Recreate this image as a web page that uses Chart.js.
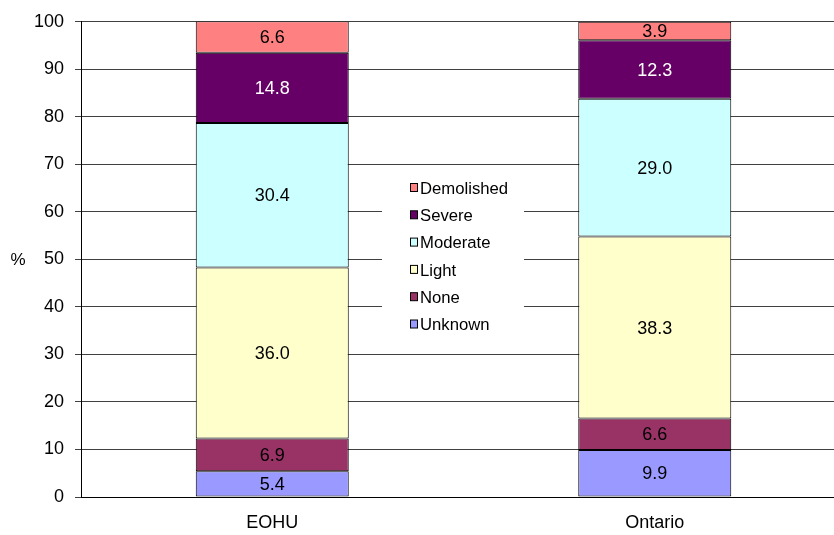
<!DOCTYPE html>
<html>
<head>
<meta charset="utf-8">
<script src="https://cdn.jsdelivr.net/npm/chart.js@4.4.1/dist/chart.umd.min.js"></script>
<style>
  html, body { margin: 0; padding: 0; background: #fff; overflow: hidden; }
  #wrap { width: 846px; height: 535px; }
</style>
</head>
<body>
<div id="wrap"><canvas id="grafica" width="846" height="535"></canvas></div>
<script>
// Categorías y series (de abajo hacia arriba en la pila)
const regiones = ['EOHU', 'Ontario'];
const unknown = [5.4, 9.9];
const none = [6.9, 6.6];
const light = [36.0, 38.3];
const moderate = [30.4, 29.0];
const severe = [14.8, 12.3];
const demolished = [6.6, 3.9];
const ticksY = [0, 10, 20, 30, 40, 50, 60, 70, 80, 90, 100];

const fuente = '"Liberation Sans", Arial, sans-serif';

const series = [
    { label: 'Unknown', data: unknown, color: '#9999FF', texto: '#000' },
    { label: 'None', data: none, color: '#993366', texto: '#000' },
    { label: 'Light', data: light, color: '#FFFFCC', texto: '#000' },
    { label: 'Moderate', data: moderate, color: '#CCFFFF', texto: '#000' },
    { label: 'Severe', data: severe, color: '#660066', texto: '#fff' },
    { label: 'Demolished', data: demolished, color: '#FF8080', texto: '#000' }
];

// Etiquetas de valor centradas en cada segmento
const etiquetasPlugin = {
    id: 'etiquetas',
    afterDatasetsDraw(chart) {
        const ctx = chart.ctx;
        ctx.save();
        ctx.font = '18px ' + fuente;
        ctx.textAlign = 'center';
        ctx.textBaseline = 'middle';
        chart.data.datasets.forEach((ds, i) => {
            chart.getDatasetMeta(i).data.forEach((bar, j) => {
                const p = bar.getProps(['x', 'y', 'base'], true);
                ctx.fillStyle = series[i].texto;
                ctx.fillText(ds.data[j].toFixed(1), p.x, (p.y + p.base) / 2 + 1);
            });
        });
        ctx.restore();
    }
};

// Leyenda dentro del área del gráfico (fondo blanco) y título horizontal del eje Y
const leyendaPlugin = {
    id: 'leyendaInterna',
    afterDraw(chart) {
        const ctx = chart.ctx;
        const y = chart.scales.y;
        ctx.save();
        ctx.fillStyle = '#000';
        ctx.font = '17px ' + fuente;
        ctx.textAlign = 'center';
        ctx.textBaseline = 'middle';
        ctx.fillText('%', 18, (y.top + y.bottom) / 2 + 1);

        ctx.fillStyle = '#fff';
        ctx.fillRect(382, 172, 142, 170);
        ctx.font = '16.7px ' + fuente;
        ctx.textAlign = 'left';
        const orden = series.slice().reverse();
        orden.forEach((s, k) => {
            const yy = 188 + k * 27.3;
            ctx.fillStyle = s.color;
            ctx.fillRect(410.5, yy - 4.5, 7, 8);
            ctx.strokeStyle = '#000';
            ctx.lineWidth = 1;
            ctx.strokeRect(410.5, yy - 4.5, 7, 8);
            ctx.fillStyle = '#000';
            ctx.fillText(s.label, 420, yy + 1);
        });
        ctx.restore();
    }
};

const ctx = document.getElementById('grafica').getContext('2d');

const grafica = new Chart(ctx, {
    type: 'bar',
    data: {
        labels: regiones,
        datasets: series.map(s => ({
            label: s.label,
            data: s.data,
            backgroundColor: s.color,
            borderColor: '#000',
            borderWidth: 1,
            borderSkipped: false,
            barPercentage: 0.4,
            categoryPercentage: 1
        }))
    },
    options: {
        responsive: false,
        animation: false,
        layout: { padding: { top: 20, right: 0, bottom: 0, left: 0 } },
        plugins: {
            legend: { display: false },
            tooltip: { enabled: false }
        },
        scales: {
            x: {
                stacked: true,
                grid: { display: false, drawTicks: false },
                border: { color: '#000', width: 1 },
                ticks: {
                    color: '#000',
                    font: { family: fuente, size: 18 },
                    padding: 15
                },
                afterFit(scale) { scale.height = 38; }
            },
            y: {
                stacked: true,
                min: 0,
                max: 100,
                afterBuildTicks(scale) {
                    scale.ticks = ticksY.map(v => ({ value: v }));
                },
                grid: {
                    color: '#404040',
                    lineWidth: 1,
                    tickLength: 6,
                    tickColor: '#404040'
                },
                border: { color: '#000', width: 1 },
                ticks: {
                    color: '#000',
                    font: { family: fuente, size: 18 },
                    padding: 11
                },
                afterFit(scale) { scale.width = 81; }
            }
        }
    },
    plugins: [etiquetasPlugin, leyendaPlugin]
});
</script>
</body>
</html>
